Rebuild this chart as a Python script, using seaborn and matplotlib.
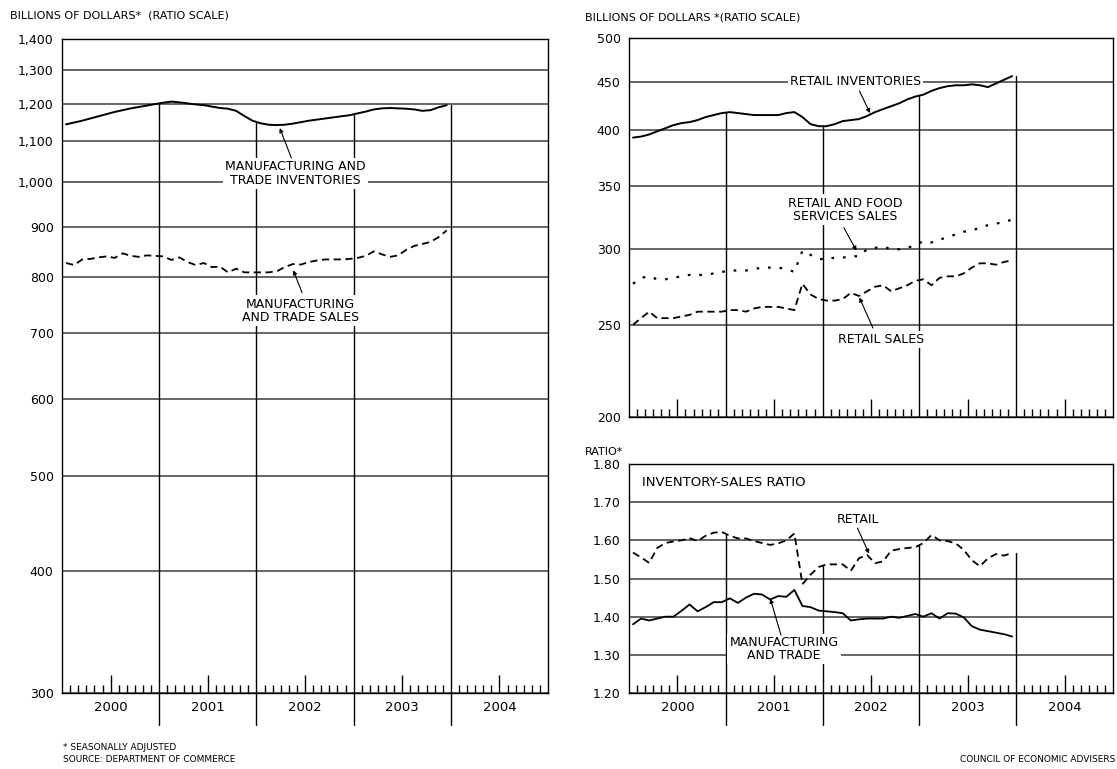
import numpy as np
import pandas as pd
import matplotlib
matplotlib.use("Agg")
import matplotlib.pyplot as plt
import matplotlib.ticker as mticker
import matplotlib.transforms as mtrans
import seaborn as sns

# monthly data, Jan 2000 - Dec 2003
years = ["2000", "2001", "2002", "2003", "2004"]

mt_inventories = [1145, 1150, 1155, 1161, 1167, 1173, 1179, 1184, 1189, 1193, 1197, 1201,
                  1205, 1208, 1206, 1203, 1200, 1198, 1194, 1190, 1188, 1182, 1168, 1155,
                  1148, 1144, 1143, 1144, 1147, 1151, 1155, 1158, 1161, 1164, 1167, 1170,
                  1175, 1180, 1186, 1189, 1190, 1189, 1188, 1186, 1182, 1184, 1192, 1198]
mt_sales = [826, 822, 833, 834, 837, 839, 836, 845, 840, 838, 841, 840,
            839, 832, 837, 828, 822, 826, 818, 819, 808, 815, 808, 808,
            808, 808, 810, 818, 824, 823, 828, 831, 833, 833, 833, 834,
            836, 840, 849, 843, 838, 841, 852, 860, 864, 868, 878, 892]

retail_inventories = [393, 394, 396, 399, 402, 405, 407, 408, 410, 413, 415, 417,
                      418, 417, 416, 415, 415, 415, 415, 417, 418, 413, 406, 404,
                      404, 406, 409, 410, 411, 414, 418, 421, 424, 427, 431, 434,
                      436, 440, 443, 445, 446, 446, 447, 446, 444, 448, 452, 456]
retail_food_sales = [276, 280, 281, 279, 279, 280, 281, 282, 282, 282, 283, 284,
                     285, 285, 285, 286, 287, 287, 287, 286, 284, 299, 296, 293,
                     293, 294, 294, 295, 295, 300, 301, 302, 300, 300, 301, 303,
                     306, 305, 307, 309, 311, 313, 314, 316, 318, 319, 321, 322]
retail_sales = [250, 254, 258, 254, 254, 254, 255, 256, 258, 258, 258, 258,
                259, 259, 258, 260, 261, 261, 261, 260, 259, 276, 269, 266,
                265, 265, 266, 270, 268, 271, 274, 275, 271, 273, 275, 278,
                279, 275, 280, 281, 281, 283, 287, 290, 290, 289, 291, 292]

ratio_retail = [1.568, 1.555, 1.541, 1.580, 1.593, 1.597, 1.600, 1.606, 1.598, 1.612, 1.620, 1.622,
                1.612, 1.605, 1.605, 1.598, 1.593, 1.588, 1.592, 1.600, 1.618, 1.485, 1.510, 1.530,
                1.537, 1.537, 1.537, 1.520, 1.553, 1.562, 1.540, 1.545, 1.573, 1.577, 1.580, 1.582,
                1.593, 1.614, 1.600, 1.598, 1.592, 1.575, 1.548, 1.532, 1.553, 1.564, 1.560, 1.567]
ratio_mt = [1.380, 1.395, 1.390, 1.395, 1.400, 1.400, 1.415, 1.432, 1.414, 1.425, 1.438, 1.438,
            1.448, 1.436, 1.450, 1.460, 1.458, 1.445, 1.454, 1.452, 1.470, 1.428, 1.425, 1.416,
            1.414, 1.412, 1.409, 1.390, 1.393, 1.395, 1.395, 1.395, 1.400, 1.397, 1.402, 1.407,
            1.400, 1.409, 1.395, 1.409, 1.408, 1.398, 1.375, 1.366, 1.362, 1.358, 1.354, 1.348]

left_ticks = [300, 400, 500, 600, 700, 800, 900, 1000, 1100, 1200, 1300, 1400]
upper_ticks = [200, 250, 300, 350, 400, 450, 500]
lower_ticks = [1.2, 1.3, 1.4, 1.5, 1.6, 1.7, 1.8]

t = 2000 + (np.arange(48) + 0.5) / 12
df = pd.DataFrame({"t": t, "mt_inv": mt_inventories, "mt_sales": mt_sales,
                   "r_inv": retail_inventories, "rf_sales": retail_food_sales,
                   "r_sales": retail_sales, "ratio_r": ratio_retail, "ratio_mt": ratio_mt})

sns.set_style("white")
plt.rcParams['font.family'] = ['DejaVu Sans']
plt.rcParams['text.color'] = 'black'
plt.rcParams['xtick.color'] = 'black'
plt.rcParams['ytick.color'] = 'black'

fig = plt.figure(figsize=(11.17, 7.69), dpi=100)
W, H = 1117, 769


def box(x0, x1, ytop, ybot):
    return [x0 / W, 1 - ybot / H, (x1 - x0) / W, (ybot - ytop) / H]


ax_l = fig.add_axes(box(62, 548, 39, 693))
ax_u = fig.add_axes(box(629, 1113, 38, 417))
ax_r = fig.add_axes(box(629, 1113, 464, 693))

GRID = "#3c3c3c"


def setup(ax, ticks, ylim, fmt, log=False, labels=True):
    if log:
        ax.set_yscale("log")
    ax.set_ylim(*ylim)
    ax.set_xlim(2000, 2005)
    ax.yaxis.set_major_locator(mticker.FixedLocator(ticks))
    ax.yaxis.set_major_formatter(mticker.FuncFormatter(fmt))
    ax.yaxis.set_minor_locator(mticker.NullLocator())
    ax.xaxis.set_major_locator(mticker.FixedLocator([2000.5 + i for i in range(5)]))
    ax.xaxis.set_major_formatter(mticker.FixedFormatter(years))
    ax.xaxis.set_minor_locator(mticker.FixedLocator(
        [2000 + k / 12 for k in range(1, 60) if k % 6 != 0]))
    ax.tick_params(axis="x", which="both", bottom=True, top=False)
    ax.tick_params(axis="x", which="major", direction="in", length=13, width=1,
                   color="black", labelsize=9.5, pad=6, labelbottom=labels)
    ax.tick_params(axis="x", which="minor", direction="in", length=5.5, width=1, color="black")
    ax.tick_params(axis="y", length=0, pad=6, labelsize=9)
    ax.grid(axis="y", which="major", color=GRID, lw=1.1, zorder=0.5)
    ax.grid(axis="x", visible=False)
    ax.set_axisbelow(True)
    for s in ax.spines.values():
        s.set_color("black")
        s.set_linewidth(1.0)
    ax.set_xlabel("")
    ax.set_ylabel("")


def separators(ax, top_series, below=0.0):
    trans = mtrans.blended_transform_factory(ax.transData, ax.transAxes)
    ybot = ax.get_ylim()[0]
    for yr in range(2001, 2005):
        top = np.interp(yr, t, top_series)
        ax.plot([yr, yr], [ybot, top], color="black", lw=1.0, zorder=2)
        if below:
            ax.plot([yr, yr], [0, -below], transform=trans, color="black",
                    lw=1.0, clip_on=False, zorder=2)


def line(ax, col, ls="-", lw=1.3):
    sns.lineplot(x="t", y=col, data=df, ax=ax, color="black", lw=lw,
                 linestyle=ls, zorder=4)


def label(ax, x, y, s, tip=None, base=None):
    ax.text(x, y, s, ha="center", va="center", fontsize=9, linespacing=1.05,
            zorder=3, bbox=dict(facecolor="white", edgecolor="none", pad=1.5))
    if tip is not None:
        ax.annotate("", xy=tip, xytext=base, zorder=3,
                    arrowprops=dict(arrowstyle="-|>", lw=0.8, color="black",
                                    mutation_scale=6, shrinkA=0, shrinkB=0))


# left panel: manufacturing and trade
line(ax_l, "mt_inv", "-", 1.4)
line(ax_l, "mt_sales", (0, (4, 2.5)), 1.3)
setup(ax_l, left_ticks, (300, 1400), lambda v, p: f"{int(v):,}", log=True)
separators(ax_l, mt_inventories, below=0.049)
label(ax_l, 2002.4, 1020, "MANUFACTURING AND\nTRADE INVENTORIES",
      tip=(2002.24, 1135), base=(2002.36, 1058))
label(ax_l, 2002.45, 738, "MANUFACTURING\nAND TRADE SALES",
      tip=(2002.38, 812), base=(2002.47, 770))

# upper right: retail
line(ax_u, "r_inv", "-", 1.4)
line(ax_u, "rf_sales", (0, (1.2, 4)), 1.6)
line(ax_u, "r_sales", (0, (4, 2.5)), 1.3)
setup(ax_u, upper_ticks, (200, 500), lambda v, p: f"{int(v)}", log=True, labels=False)
separators(ax_u, retail_inventories)
label(ax_u, 2002.34, 450, "RETAIL INVENTORIES",
      tip=(2002.49, 417), base=(2002.38, 440))
label(ax_u, 2002.23, 330, "RETAIL AND FOOD\nSERVICES SALES",
      tip=(2002.35, 299), base=(2002.22, 316))
label(ax_u, 2002.6, 241, "RETAIL SALES",
      tip=(2002.38, 267), base=(2002.52, 248))

# lower right: inventory-sales ratio
line(ax_r, "ratio_r", (0, (4, 2.5)), 1.3)
line(ax_r, "ratio_mt", "-", 1.3)
setup(ax_r, lower_ticks, (1.2, 1.8), lambda v, p: f"{v:.2f}")
separators(ax_r, ratio_retail, below=0.14)
ax_r.text(2000.13, 1.752, "INVENTORY-SALES RATIO", ha="left", va="center",
          fontsize=9.5, zorder=3)
label(ax_r, 2002.37, 1.655, "RETAIL", tip=(2002.48, 1.565), base=(2002.36, 1.632))
label(ax_r, 2001.6, 1.315, "MANUFACTURING\nAND TRADE",
      tip=(2001.46, 1.447), base=(2001.57, 1.352))

# titles and notes
fig.text(10 / W, 1 - 15 / H, "BILLIONS OF DOLLARS*  (RATIO SCALE)", fontsize=8, va="center")
fig.text(585 / W, 1 - 17 / H, "BILLIONS OF DOLLARS *(RATIO SCALE)", fontsize=8, va="center")
fig.text(585 / W, 1 - 452 / H, "RATIO*", fontsize=8, va="center")
fig.text(63 / W, 1 - 748 / H, "* SEASONALLY ADJUSTED", fontsize=6.5, va="center")
fig.text(63 / W, 1 - 759 / H, "SOURCE: DEPARTMENT OF COMMERCE", fontsize=6.5, va="center")
fig.text(1115 / W, 1 - 759 / H, "COUNCIL OF ECONOMIC ADVISERS", fontsize=6.5,
         va="center", ha="right")

plt.savefig("out.png", dpi=100)
